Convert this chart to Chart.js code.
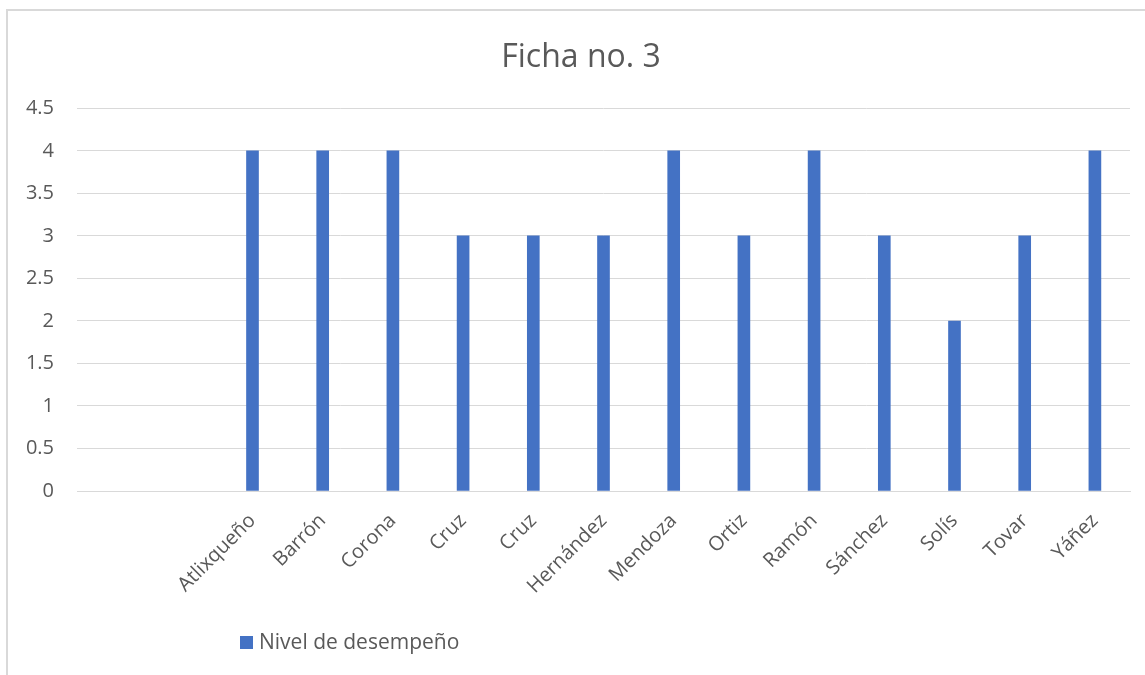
<!DOCTYPE html>
<html>
<head>
<meta charset="utf-8">
<script src="https://cdn.jsdelivr.net/npm/chart.js@4"></script>
<style>
  html, body { margin: 0; padding: 0; background: #fff; overflow: hidden; }
  #frame { position: absolute; left: 6px; top: 9px; width: 1150px; height: 666px;
           border-left: 2px solid #d9d9d9; border-top: 2px solid #d9d9d9; box-sizing: border-box; }
  #wrap { position: absolute; left: 6px; top: 9px; width: 1150px; height: 666px; }
</style>
</head>
<body>
<div id="frame"></div>
<div id="wrap"><canvas id="c"></canvas></div>
<script>
const titleText = 'Ficha no. 3';
const seriesName = 'Nivel de desempeño';
const categories = ['', '', 'Atlixqueño', 'Barrón', 'Corona', 'Cruz', 'Cruz', 'Hernández', 'Mendoza', 'Ortiz', 'Ramón', 'Sánchez', 'Solís', 'Tovar', 'Yáñez'];
const values = [null, null, 4, 4, 4, 3, 3, 3, 4, 3, 4, 3, 2, 3, 4];
const yTicks = [0, 0.5, 1, 1.5, 2, 2.5, 3, 3.5, 4, 4.5];

const FONT = "'Open Sans', 'DejaVu Sans', sans-serif";
const TEXT = '#595959';
const BAR = '#4472C4';

const legendPlugin = {
  id: 'customLegend',
  afterDraw(chart) {
    const ctx = chart.ctx;
    const ds = chart.data.datasets[0];
    ctx.save();
    ctx.fillStyle = ds.backgroundColor;
    ctx.fillRect(234, 627, 13, 13);
    ctx.fillStyle = TEXT;
    ctx.font = "21px " + FONT;
    ctx.textBaseline = 'middle';
    ctx.textAlign = 'left';
    ctx.fillText(ds.label, 253, 634);
    ctx.restore();
  }
};

new Chart(document.getElementById('c'), {
  type: 'bar',
  data: {
    labels: categories,
    datasets: [{
      label: seriesName,
      data: values,
      backgroundColor: BAR,
      borderWidth: 0,
      barThickness: 12
    }]
  },
  options: {
    responsive: true,
    maintainAspectRatio: false,
    animation: false,
    layout: { padding: { left: 15, right: 15, top: 0, bottom: 0 } },
    plugins: {
      legend: { display: false },
      tooltip: { enabled: false },
      title: {
        display: true,
        text: titleText,
        color: TEXT,
        font: { family: FONT, size: 32, weight: 'normal' },
        padding: { top: 30, bottom: 31 }
      }
    },
    scales: {
      x: {
        grid: { display: false, drawTicks: false },
        border: { display: true, color: '#d9d9d9' },
        ticks: {
          autoSkip: false,
          minRotation: 45,
          maxRotation: 45,
          color: TEXT,
          padding: 18,
          font: { family: FONT, size: 20 }
        },
        afterFit(scale) { scale.height = 184; }
      },
      y: {
        min: 0,
        max: 4.5,
        afterBuildTicks(scale) { scale.ticks = yTicks.map(v => ({ value: v })); },
        grid: { color: '#d9d9d9', lineWidth: 1, drawTicks: false },
        border: { display: false },
        ticks: {
          color: TEXT,
          padding: 23,
          font: { family: FONT, size: 20 },
          callback: (v) => String(v)
        },
        afterFit(scale) { scale.width = 56; }
      },
      yRight: {
        position: 'right',
        display: true,
        grid: { display: false, drawTicks: false },
        border: { display: false },
        ticks: { display: false },
        afterFit(scale) { scale.width = 11; }
      }
    }
  },
  plugins: [legendPlugin]
});
</script>
</body>
</html>
